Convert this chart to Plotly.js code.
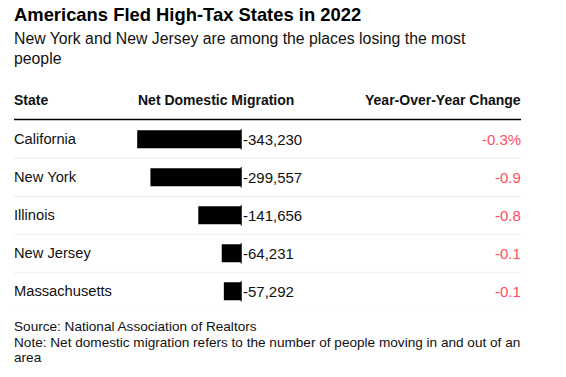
<!DOCTYPE html>
<html>
<head>
<meta charset="utf-8">
<script src="https://cdn.plot.ly/plotly-3.0.1.min.js"></script>
<style>html,body{margin:0;padding:0;background:#fff;}#chart{width:566px;height:377px;}</style>
</head>
<body>
<div id="chart"></div>
<script>
// ---- data ----
const states = ["California", "New York", "Illinois", "New Jersey", "Massachusetts"];
const netMigration = [-343230, -299557, -141656, -64231, -57292];
const yoyChange = [-0.3, -0.9, -0.8, -0.1, -0.1];
const headers = ["State", "Net Domestic Migration", "Year-Over-Year Change"];
const titleText = "Americans Fled High-Tax States in 2022";
const subtitleLines = ["New York and New Jersey are among the places losing the most", "people"];
const footLines = ["Source: National Association of Realtors",
  "Note: Net domestic migration refers to the number of people moving in and out of an",
  "area"];

// ---- layout helpers ----
const W = 566, H = 377;
const px = x => x / W;
const py = y => 1 - y / H;
const FONT = "Liberation Sans, Arial, Helvetica, sans-serif";
const RED = "#ff4d63";
const LEFT = 14, RIGHT = 521;
const ZERO_PX = 241.2, UNITS_PER_PX = 3300;
const AX_L = 100, AX_R = 320;
const ROW_TOP = 120.3, ROW_H = 38;

const n = states.length;

const trace = {
  type: "bar",
  orientation: "h",
  x: netMigration,
  y: states,
  width: 0.474,
  marker: {color: "#000000", line: {width: 0}},
  hoverinfo: "skip"
};

const annotations = [];
// subtitle
const subY = [38.5, 58.5];
subtitleLines.forEach((t, k) => annotations.push({xref: "paper", yref: "paper", x: px(LEFT), y: py(subY[k]),
  xanchor: "left", yanchor: "middle", xshift: -2,
  text: t, showarrow: false, align: "left", font: {family: FONT, size: 15.8, color: "#111"}}));
// headers
annotations.push({xref: "paper", yref: "paper", x: px(LEFT), y: py(100), xanchor: "left", yanchor: "middle",
  text: "<b>" + headers[0] + "</b>", showarrow: false, xshift: -2, font: {family: FONT, size: 14, color: "#111"}});
annotations.push({xref: "paper", yref: "paper", x: px(137), y: py(100), xanchor: "left", yanchor: "middle",
  text: "<b>" + headers[1] + "</b>", showarrow: false, xshift: -1, font: {family: FONT, size: 14, color: "#111"}});
annotations.push({xref: "paper", yref: "paper", x: px(RIGHT), y: py(100), xanchor: "right", yanchor: "middle",
  text: "<b>" + headers[2] + "</b>", showarrow: false, xshift: 2, font: {family: FONT, size: 14, color: "#111"}});
// rows
states.forEach((s, i) => {
  annotations.push({xref: "paper", yref: "y", x: px(LEFT), y: i, xanchor: "left", yanchor: "middle",
    text: s, showarrow: false, xshift: -2, font: {family: FONT, size: 14.7, color: "#111"}});
  annotations.push({xref: "x", yref: "y", x: 0, y: i, xanchor: "left", yanchor: "middle",
    text: netMigration[i].toLocaleString("en-US"), showarrow: false, xshift: 0,
    font: {family: FONT, size: 15, color: "#111"}});
  annotations.push({xref: "paper", yref: "y", x: px(RIGHT), y: i, xanchor: "right", yanchor: "middle",
    text: yoyChange[i].toFixed(1) + (i === 0 ? "%" : ""), showarrow: false, xshift: 2,
    font: {family: FONT, size: 15, color: RED}});
});
// footnotes
const footY = [326, 342, 357];
footLines.forEach((t, k) => annotations.push({xref: "paper", yref: "paper", x: px(LEFT), y: py(footY[k]),
  xanchor: "left", yanchor: "middle", xshift: -2,
  text: t, showarrow: false, align: "left", font: {family: FONT, size: 13.6, color: "#111"}}));

const shapes = [];
shapes.push({type: "line", xref: "paper", yref: "paper", x0: px(LEFT), x1: px(RIGHT), y0: py(119.5), y1: py(119.5),
  line: {color: "#000", width: 1.6}});
states.forEach((s, i) => {
  shapes.push({type: "line", xref: "paper", yref: "y", x0: px(LEFT), x1: px(RIGHT), y0: i + 0.5, y1: i + 0.5,
    line: {color: "#ededed", width: 1}});
  shapes.push({type: "line", xref: "x", yref: "y", x0: 0, x1: 0, y0: i - 0.27, y1: i + 0.27,
    line: {color: "#000", width: 1}});
});

const layout = {
  width: W, height: H,
  margin: {l: 0, r: 0, t: 0, b: 0},
  paper_bgcolor: "#fff", plot_bgcolor: "rgba(0,0,0,0)",
  showlegend: false,
  title: {text: "<b>" + titleText + "</b>", xref: "paper", yref: "paper", x: px(LEFT), xanchor: "left",
    y: py(15), yanchor: "middle", font: {family: FONT, size: 18.4, color: "#000"}},
  xaxis: {domain: [px(AX_L), px(AX_R)],
    range: [-(ZERO_PX - AX_L) * UNITS_PER_PX, (AX_R - ZERO_PX) * UNITS_PER_PX],
    visible: false, fixedrange: true},
  yaxis: {domain: [py(ROW_TOP + n * ROW_H), py(ROW_TOP)], type: "category", categoryarray: states,
    range: [n - 0.5, -0.5], visible: false, fixedrange: true},
  annotations: annotations,
  shapes: shapes
};

Plotly.newPlot("chart", [trace], layout, {staticPlot: true, displayModeBar: false});
</script>
</body>
</html>
